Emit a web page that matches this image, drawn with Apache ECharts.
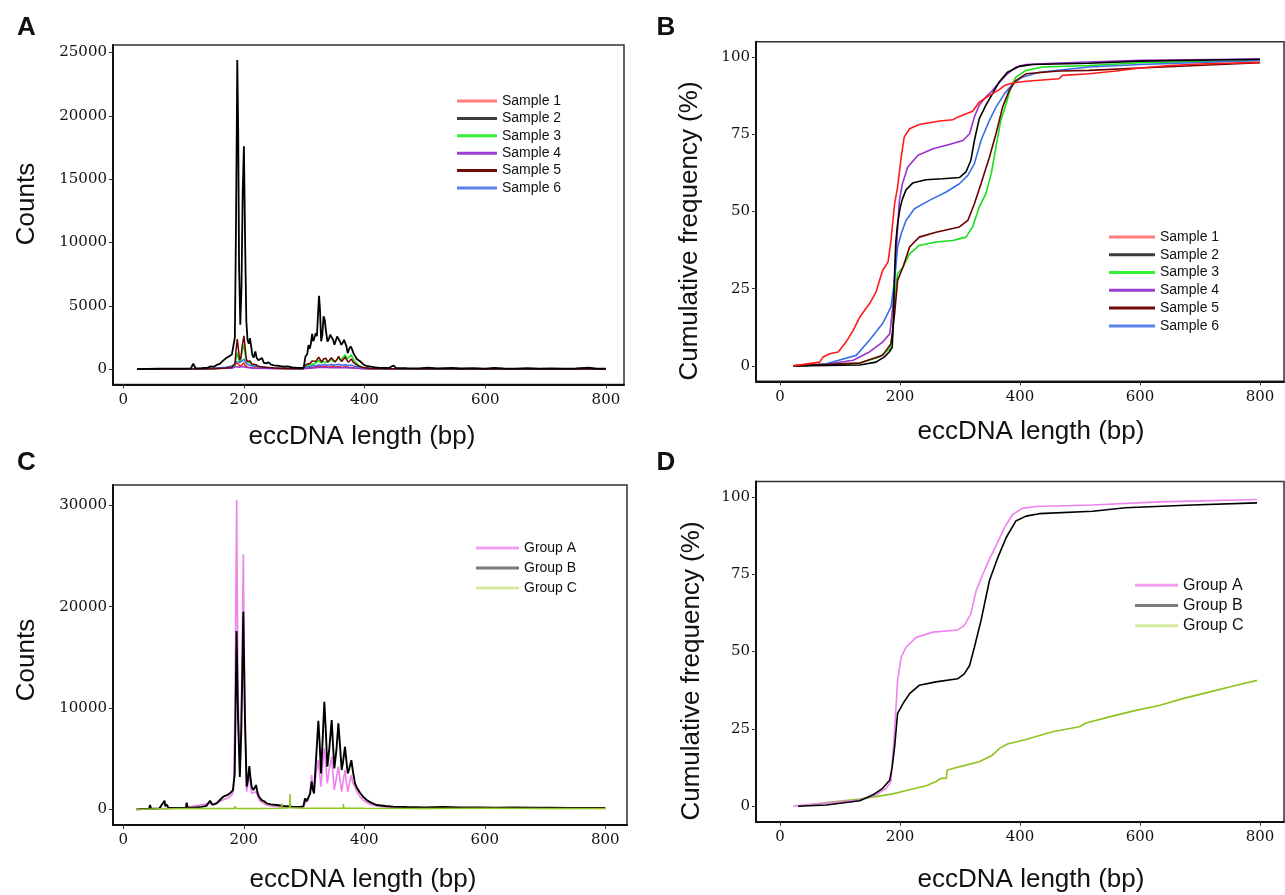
<!DOCTYPE html>
<html><head><meta charset="utf-8">
<script src="https://cdn.jsdelivr.net/npm/echarts@6/dist/echarts.min.js"></script>
<style>html,body{margin:0;padding:0;background:#fff}#c{width:1285px;height:895px}</style>
</head><body><div id="c"></div><script>
// ---------- tick labels ----------
const xTicks = [0, 200, 400, 600, 800];
const yTicksA = [0, 5000, 10000, 15000, 20000, 25000];
const yTicksC = [0, 10000, 20000, 30000];
const yTicksCum = [0, 25, 50, 75, 100];

// ---------- names ----------
const sampleNames = ['Sample 1', 'Sample 2', 'Sample 3', 'Sample 4', 'Sample 5', 'Sample 6'];
const groupNames = ['Group A', 'Group B', 'Group C'];

// ---------- Panel A: counts per length (bp, counts) ----------
const countS1 = [[23,0],[100,20],[150,50],[175,100],[185,250],[187,500],[189,650],[191,400],[194,200],[197,350],[200,500],[202,300],[206,150],[215,100],[240,60],[298,20],[305,80],[315,150],[324,250],[328,150],[334,230],[340,150],[346,220],[352,150],[357,200],[363,130],[368,180],[375,120],[385,80],[400,30],[500,15],[650,20],[800,15]];
const countS2 = [[23,0],[40,20],[60,30],[80,40],[100,40],[112,60],[116,420],[120,60],[130,80],[140,120],[145,220],[150,180],[155,330],[160,420],[165,650],[170,850],[175,1000],[180,1150],[183,1300],[185,2500],[187,12000],[189,24400],[190.5,19000],[192,8000],[194,3500],[196,6500],[198,14000],[200,17600],[202,10000],[204,3800],[206,2300],[208,2000],[210,2450],[212,1800],[214,1100],[216,900],[219,1400],[221,900],[224,700],[227,650],[230,880],[233,500],[237,450],[241,530],[245,350],[250,300],[258,250],[265,200],[272,220],[280,130],[290,100],[299,100],[302,1000],[305,1200],[307,1900],[309,1600],[311,2000],[313,2790],[315,2200],[317,2500],[319,2840],[321,2600],[323,4500],[324.5,5790],[326,4800],[328,2200],[330,2700],[332,4160],[334,3890],[336,3000],[338.5,2180],[341,2400],[343,2710],[345.5,2580],[348,2300],[350,1920],[352,2200],[354.5,2580],[357,2580],[359,2200],[361.5,1920],[364,2100],[366,2310],[368,2310],[370,1800],[372,1260],[374.5,1600],[377,1790],[379,1600],[381.5,1260],[384,1050],[387,800],[390,650],[393,600],[396,450],[399,340],[403,250],[408,210],[415,150],[425,100],[440,90],[448,280],[452,90],[470,70],[490,60],[505,120],[520,60],[545,100],[560,50],[580,80],[600,40],[615,90],[630,50],[650,40],[670,70],[690,40],[710,60],[730,40],[750,50],[772,110],[785,40],[800,30]];
const countS3 = [[23,0],[100,10],[170,60],[180,120],[185,300],[187,800],[189,1300],[191,900],[193,500],[195,800],[197,1400],[200,1900],[202,1200],[204,600],[207,450],[210,500],[215,300],[220,250],[230,150],[250,70],[298,20],[302,250],[310,350],[313,500],[316,400],[320,500],[324,700],[327,500],[331,600],[334,750],[337,550],[341,600],[345,800],[348,600],[352,650],[357,900],[360,700],[363,750],[368,1130],[371,800],[374,700],[378,1130],[381,800],[385,550],[390,300],[398,120],[410,40],[500,15],[800,10]];
const countS4 = [[23,0],[100,10],[180,60],[187,200],[189,300],[192,150],[197,200],[200,300],[203,150],[215,60],[260,20],[305,40],[324,120],[334,130],[346,110],[357,120],[368,110],[380,80],[400,20],[800,5]];
const countS5 = [[23,0],[100,10],[150,30],[170,80],[180,150],[185,400],[187,1500],[189,2370],[191,1500],[193,700],[195,900],[197,1800],[200,2630],[202,1700],[204,800],[206,600],[208,550],[210,650],[213,400],[216,300],[220,350],[225,200],[235,150],[250,80],[270,50],[298,30],[301,300],[305,400],[310,450],[313,650],[316,500],[319,600],[322,750],[324,950],[326,800],[329,550],[332,800],[334,950],[336,850],[339,550],[342,700],[345,900],[348,750],[351,550],[354,750],[357,1000],[359,800],[362,600],[365,750],[368,950],[370,750],[373,550],[376,700],[378,800],[381,550],[385,400],[390,250],[398,120],[410,50],[450,20],[600,15],[800,10]];
const countS6 = [[23,0],[100,20],[150,60],[170,150],[180,250],[185,400],[187,600],[189,750],[191,550],[193,450],[196,600],[200,790],[202,600],[205,400],[210,300],[215,250],[225,180],[240,120],[260,70],[298,30],[302,150],[310,200],[315,280],[320,250],[324,350],[328,280],[334,380],[338,300],[345,370],[350,300],[357,380],[362,300],[368,350],[372,280],[378,300],[385,200],[395,100],[410,40],[500,20],[800,10]];

// ---------- Panel B: cumulative frequency (%) ----------
const cumS1 = [[22,0],[66,1.2],[72,2.9],[83,3.9],[97,4.5],[110,7.7],[122,11.5],[133,15.8],[149,20.1],[160,23.9],[171,30.9],[180,33.6],[185,40.6],[191,52.5],[196,57.9],[202,67.6],[207,74.1],[216,76.8],[232,78.2],[266,79.3],[288,79.7],[299,80.8],[321,82.5],[332,85.4],[349,87.6],[365,89.4],[374,90.8],[388,91.6],[410,92.2],[465,93.0],[471,94.1],[515,94.6],[560,95.5],[600,96.5],[650,97.3],[700,97.8],[800,98.3]];
const cumS2 = [[22,0],[133,0.3],[160,1.2],[174,2.9],[182,4.5],[187,6],[189,15],[191,30],[193,40],[196,46],[200,51],[204,54],[210,57],[221,59.2],[243,60.3],[271,60.6],[299,61],[310,62.8],[318,66.5],[324,73],[332,80],[343,84.4],[354,88.1],[365,91.9],[379,95.1],[399,97],[421,97.6],[515,98],[600,98.7],[800,99.3]];
const cumS3 = [[22,0],[133,0.9],[166,2.9],[183,5.6],[188,10.4],[192,24.4],[196,29.8],[205,32],[216,36.3],[232,39],[260,40.1],[288,40.6],[310,41.7],[321,45],[332,51.4],[343,55.7],[352,62.2],[360,70.9],[368,79.5],[377,84.9],[385,90.3],[393,93.5],[410,95.7],[438,96.8],[515,97.3],[600,98.2],[800,98.9]];
const cumS4 = [[22,0],[77,0.5],[122,1.8],[149,4.5],[171,7.7],[183,10.4],[188,19],[194,38.5],[199,53.6],[204,59],[213,64.4],[230,68.2],[255,70.3],[282,71.7],[305,73],[316,75.2],[324,80.6],[332,84.4],[343,87.1],[354,89.2],[366,91.9],[379,94.6],[393,96.8],[410,97.6],[465,98.1],[600,99],[800,99.4]];
const cumS5 = [[22,0],[133,0.9],[171,3.4],[185,7.2],[191,16.9],[196,27.7],[205,32],[216,38.5],[232,41.7],[260,43.3],[299,45],[313,47.1],[324,52.5],[335,59],[349,67.6],[360,75.2],[371,83.8],[382,89.2],[393,92.4],[410,94.6],[465,95.5],[515,95.7],[600,96.5],[800,98.2]];
const cumS6 = [[22,0],[77,0.7],[127,3.4],[149,8.3],[171,13.7],[185,19.1],[191,27.7],[196,38.5],[202,42.8],[210,47.1],[224,50.9],[249,53.6],[277,56.3],[299,59],[313,61.7],[324,65.5],[335,73],[349,79.5],[360,83.8],[374,88.1],[388,91.4],[404,93.5],[432,95.1],[515,96.8],[600,97.6],[800,98.9]];

// ---------- Panel C: counts per length by group ----------
const countGA = [[22,0],[60,50],[100,150],[144,590],[150,500],[166,920],[175,1200],[180,1410],[183,1800],[185.5,10000],[188.2,30500],[190.4,12000],[193.7,3550],[196.5,12000],[199.3,25180],[201.5,10000],[204.8,1740],[207,2500],[209.2,3550],[211,2500],[213.1,1580],[216,1400],[220.3,1740],[223,1300],[225.3,920],[230,700],[238,430],[250,300],[270,230],[299,200],[302,700],[307.2,900],[310,1800],[312.7,3390],[314.5,2300],[316.6,1740],[320,3500],[323.8,4860],[326,3500],[328.2,2240],[331,4500],[333.7,6020],[336,4500],[338.7,2560],[342,4000],[345.9,5190],[348,3500],[350.3,1910],[354,3200],[357,4210],[359.5,3000],[362.5,1740],[365,2800],[368,3880],[370,2800],[372.5,1740],[375,2500],[378.6,3390],[381,2600],[384.6,2240],[388,1700],[392.9,1250],[398,900],[404,660],[412,450],[420.6,330],[440,200],[470,150],[520,140],[600,120],[700,110],[800,100]];
const countGB = [[22,0],[35,50],[43,80],[44.5,430],[46,80],[60,100],[68.5,850],[70,300],[72,500],[75,150],[90,130],[104,150],[105.2,660],[107,150],[120,200],[130,250],[138,350],[144,850],[148,450],[155,600],[160,900],[166,1250],[172,1400],[177,1580],[182,1900],[185,3500],[188,17600],[190.5,9000],[193.5,3200],[196,8000],[199.3,19500],[202,9000],[204.8,2240],[207,3000],[209.2,4270],[211,3200],[213,2240],[216,1900],[220.3,2400],[223,1600],[225.3,1250],[229.7,920],[234,800],[238,590],[245,500],[255,430],[265,330],[280,260],[293,250],[299,300],[301.6,1080],[304,800],[307.2,660],[310,1500],[312.7,2730],[314.5,2000],[316.6,1580],[320,5000],[323.8,8740],[326,6500],[328.2,3550],[331,7000],[333.7,10620],[336,8000],[338.7,4210],[342,6000],[345.9,8810],[348,6500],[350.3,4040],[354,6000],[357,8480],[359.5,6500],[362.5,3880],[365,4800],[368,6180],[370,5000],[372.5,3550],[375,4000],[378.6,4860],[381,3800],[384.6,2560],[388,2100],[392.9,1640],[398,1250],[404,920],[412,650],[420.6,430],[435,330],[448,260],[470,230],[500,200],[530,230],[560,180],[590,200],[620,170],[650,190],[680,160],[710,170],[740,150],[770,140],[800,130]];
const countGC = [[22,0],[60,60],[100,80],[150,90],[184,100],[185.4,300],[187,100],[230,100],[262,110],[263,590],[264,110],[276,150],[276.7,1510],[277.5,150],[300,120],[320,110],[365,120],[365.3,530],[366,120],[400,110],[500,100],[600,110],[700,100],[800,100]];

// ---------- Panel D: cumulative frequency by group ----------
const cumGA = [[22,0.1],[77,1.0],[133,2.0],[160,3.7],[177,5.8],[185,8.0],[191,24.6],[196,40.7],[202,48.2],[210,51.4],[227,54.6],[255,56.3],[296,57.0],[307,58.4],[318,62.2],[327,69.7],[338,75.0],[349,79.9],[360,84.2],[374,90.1],[388,94.4],[404,96.3],[427,96.9],[521,97.4],[632,98.4],[795,99.2]];
const cumGB = [[30,0],[77,0.4],[133,1.8],[155,3.7],[171,5.8],[183,8.5],[187,12.8],[191,19.2],[196,30.0],[205,33.2],[216,36.4],[232,39.1],[260,40.2],[296,41.2],[307,42.8],[316,45.5],[324,51.4],[335,60.0],[349,72.9],[363,80.4],[377,86.9],[393,92.2],[410,93.8],[432,94.6],[521,95.4],[576,96.5],[687,97.4],[795,98.1]];
const cumGC = [[30,0],[77,1.2],[133,2.3],[188,4.0],[216,5.3],[244,6.6],[260,8.0],[268,9.0],[277,9.0],[279,11.7],[288,12.2],[310,13.3],[332,14.4],[354,16.5],[366,18.7],[379,20.1],[410,21.6],[454,24.1],[499,25.7],[510,26.9],[549,28.9],[593,31.0],[632,32.6],[671,34.8],[715,36.9],[754,38.8],[795,40.7]];

// ---------- styling ----------
const sampleColors = ['#ff1a1a', '#000000', '#16e016', '#9932cc', '#6b0000', '#3a6fe6'];
const sampleLegendColors = ['#ff7f7f', '#3c3c3c', '#33ee33', '#9a3fd6', '#700a0a', '#5a80ea'];
const groupColors = ['#ee82ee', '#000000', '#8fc31f'];
const groupLegendColors = ['#f0a0f0', '#7a7a7a', '#d6e9a0'];

const TICKFONT = 'DejaVu Serif';
const SANS = '"Liberation Sans", Arial, sans-serif';

function grid(l, t, w, h) {
  return { left: l, top: t, width: w, height: h, show: true, borderColor: '#333', borderWidth: 1.5, containLabel: false };
}
function axis(type, gi, min, max, ticks) {
  const isX = type === 'x';
  return {
    type: 'value', gridIndex: gi, min: min, max: max,
    axisLine: { show: true, onZero: false, lineStyle: { color: '#111', width: 2 } },
    axisTick: { show: true, length: 4, lineStyle: { color: '#333', width: 1 }, customValues: ticks },
    axisLabel: { show: true, customValues: ticks, fontFamily: TICKFONT, fontSize: 15, color: '#111',
      margin: isX ? 8 : 6, formatter: v => String(v) },
    splitLine: { show: false }
  };
}
function lineSeries(name, data, color, gi, width, z) {
  return { name: name, type: 'line', xAxisIndex: gi, yAxisIndex: gi, data: data,
    showSymbol: false, symbol: 'none', silent: true, animation: false, z: z || 2,
    lineStyle: { color: color, width: width }, itemStyle: { color: color },
    emphasis: { disabled: true } };
}
function legend(names, colors, left, top, fs, lh, iw) {
  return { orient: 'vertical', left: left, top: top, icon: 'rect', itemWidth: iw, itemHeight: 3,
    itemGap: 0, selectedMode: false,
    textStyle: { fontFamily: SANS, fontSize: fs, color: '#111', lineHeight: lh },
    data: names.map((n, i) => ({ name: n, itemStyle: { color: colors[i] } })) };
}
function txt(x, y, s, size, rot, bold) {
  return { type: 'text', x: x, y: y, rotation: rot || 0, silent: true,
    style: { text: s, fontFamily: SANS, fontSize: size, fontWeight: bold ? 'bold' : 'normal',
      fill: '#111', align: 'center', verticalAlign: 'middle' } };
}

const countA = [countS1, countS2, countS3, countS4, countS5, countS6];
const cumB = [cumS1, cumS2, cumS3, cumS4, cumS5, cumS6];
const countC = [countGA, countGB, countGC];
const cumD = [cumGA, cumGB, cumGC];

const series = [];
[0, 2, 3, 5, 4, 1].forEach(i => series.push(lineSeries(sampleNames[i], countA[i], sampleColors[i], 0, i === 1 ? 1.8 : 1.5, 2 + (i === 1 ? 5 : 0))));
[2, 3, 5, 4, 1, 0].forEach(i => series.push(lineSeries(sampleNames[i], cumB[i], sampleColors[i], 1, 1.6, 2)));
series.push(lineSeries(groupNames[0], countC[0], groupColors[0], 2, 1.6, 2));
series.push(lineSeries(groupNames[1], countC[1], groupColors[1], 2, 1.9, 3));
series.push(lineSeries(groupNames[2], countC[2], groupColors[2], 2, 1.5, 4));
series.push(lineSeries(groupNames[2], cumD[2], groupColors[2], 3, 1.6, 2));
series.push(lineSeries(groupNames[0], cumD[0], groupColors[0], 3, 1.6, 3));
series.push(lineSeries(groupNames[1], cumD[1], groupColors[1], 3, 1.6, 4));

const option = {
  backgroundColor: '#ffffff',
  animation: false,
  grid: [ grid(113, 45, 511, 339.5), grid(756, 41.7, 528, 339.6), grid(113, 485, 514, 340), grid(756, 481.5, 528, 340.2) ],
  xAxis: [ axis('x', 0, -17, 830, xTicks), axis('x', 1, -40, 840, xTicks), axis('x', 2, -17, 836, xTicks), axis('x', 3, -40, 840, xTicks) ],
  yAxis: [ axis('y', 0, -1215, 25590, yTicksA), axis('y', 1, -5, 105, yTicksCum), axis('y', 2, -1540, 32000, yTicksC), axis('y', 3, -5, 105, yTicksCum) ],
  legend: [
    legend(sampleNames, sampleLegendColors, 452, 87.3, 14, 17.4, 40),
    legend(sampleNames, sampleLegendColors, 1104, 223, 14, 17.8, 46),
    legend(groupNames, groupLegendColors, 471, 533, 14, 20, 43),
    legend(groupNames, groupLegendColors, 1130, 570, 16, 20.3, 43)
  ],
  series: series,
  graphic: [
    txt(26.5, 27.5, 'A', 26, 0, true),
    txt(666, 27.5, 'B', 26, 0, true),
    txt(26.5, 463, 'C', 26, 0, true),
    txt(666, 463, 'D', 26, 0, true),
    txt(27, 204, 'Counts', 26, Math.PI / 2),
    txt(362, 437, 'eccDNA length (bp)', 26),
    txt(690, 231, 'Cumulative frequency (%)', 26, Math.PI / 2),
    txt(1031, 432, 'eccDNA length (bp)', 26),
    txt(27, 660, 'Counts', 26, Math.PI / 2),
    txt(363, 880, 'eccDNA length (bp)', 26),
    txt(692, 671, 'Cumulative frequency (%)', 26, Math.PI / 2),
    txt(1031, 880, 'eccDNA length (bp)', 26)
  ]
};
const chart = echarts.init(document.getElementById('c'), null, { renderer: 'canvas' });
chart.setOption(option);
</script></body></html>
